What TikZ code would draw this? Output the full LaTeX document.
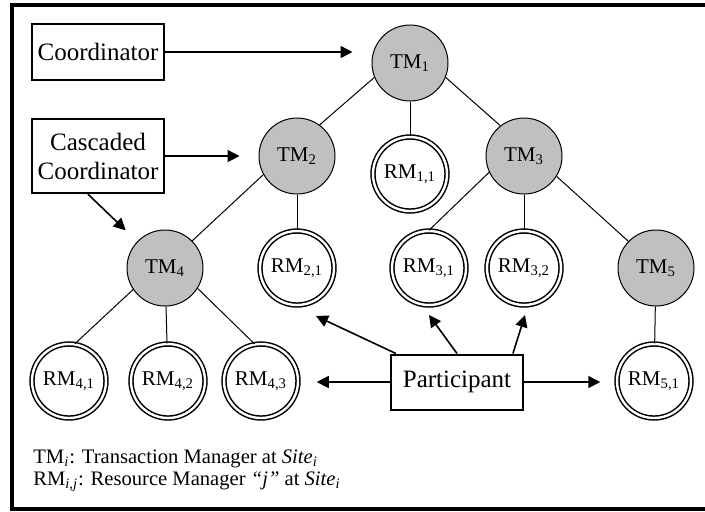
\documentclass[tikz,border=0pt]{standalone}
\usepackage{fontspec}
\setmainfont{Liberation Serif}
\usepackage{tikz}
\usetikzlibrary{arrows.meta}

\definecolor{tmgray}{RGB}{192,192,192}

\tikzset{
  tm/.style={circle, draw, line width=0.5pt, fill=tmgray, minimum size=38pt, inner sep=0pt, font=\fontsize{10.5}{12}\selectfont},
  rm/.style={circle, draw, line width=0.75pt, double, double distance=1.2pt, minimum size=37pt, inner sep=0pt, font=\fontsize{10.5}{12}\selectfont},
  role/.style={draw, line width=1pt, minimum width=66pt, inner sep=2pt, align=center, font=\fontsize{12.5}{14.5}\selectfont},
  arr/.style={line width=0.8pt, -{Triangle[length=6pt,width=6pt]}},
  link/.style={line width=0.5pt},
  legend/.style={anchor=base west, inner sep=0pt, font=\fontsize{10.3}{12}\selectfont}
}

\begin{document}
\begin{tikzpicture}[x=0.5pt, y=-0.5pt]

\useasboundingbox (0,0) rectangle (705,511);
% frame, open on the right
\draw[line width=2pt] (720,5) -- (12,5) -- (12,509) -- (720,509);

% transaction managers
\node[tm] (tm1) at (410,63) {TM\textsubscript{1}};
\node[tm] (tm2) at (297,156) {TM\textsubscript{2}};
\node[tm] (tm3) at (524,156) {TM\textsubscript{3}};
\node[tm] (tm4) at (165,268) {TM\textsubscript{4}};
\node[tm] (tm5) at (656,268) {TM\textsubscript{5}};

% resource managers
\node[rm] (rm11) at (410,174) {RM\textsubscript{1,1}};
\node[rm] (rm21) at (297,268) {RM\textsubscript{2,1}};
\node[rm] (rm31) at (429,268) {RM\textsubscript{3,1}};
\node[rm] (rm32) at (524,268) {RM\textsubscript{3,2}};
\node[rm] (rm41) at (69,381) {RM\textsubscript{4,1}};
\node[rm] (rm42) at (168,381) {RM\textsubscript{4,2}};
\node[rm] (rm43) at (261,381) {RM\textsubscript{4,3}};
\node[rm] (rm51) at (654,381) {RM\textsubscript{5,1}};

% roles
\node[role, minimum height=28pt] (coord) at (98,52) {Coordinator};
\node[role, minimum height=37pt] (casc) at (98,156) {Cascaded\\Coordinator};
\node[role, minimum height=27.5pt] (part) at (457,382) {Participant};

% tree
\draw[link] (tm1.202) -- (tm2.54);
\draw[link] (tm1.338) -- (tm3.128);
\draw[link] (tm1) -- (rm11);
\draw[link] (tm2.209) -- (tm4.45);
\draw[link] (tm2) -- (rm21);
\draw[link] (tm3.205) -- (rm31.north);
\draw[link] (tm3) -- (rm32);
\draw[link] (tm3.328) -- (tm5.136);
\draw[link] (tm4.214) -- (rm41.81);
\draw[link] (tm4) -- (rm42);
\draw[link] (tm4.328) -- (rm43.100);
\draw[link] (tm5) -- (rm51);

% role arrows
\coordinate (a21) at (316,316);
\coordinate (a31) at (429,315);
\coordinate (a32) at (525,315);

\draw[arr, shorten >=9.5pt] (coord.east) -- (coord.east -| tm1.west);
\draw[arr, shorten >=9.5pt] (casc.east) -- (casc.east -| tm2.west);
\draw[arr, shorten >=8pt] (casc.255) -- (tm4);
\draw[arr] (part.155) -- (a21);
\draw[arr] (part.north) -- (a31);
\draw[arr] (part.27) -- (a32);
\draw[arr, shorten >=9pt] (part.west) -- (part.west -| rm43.east);
\draw[arr, shorten >=8pt] (part.east) -- (part.east -| rm51.west);

% legend
\node[legend] (leg1) at (33,463) {TM\textsubscript{\textit{i}}: Transaction Manager at \textit{Site}\textsubscript{\textit{i}}};
\node[legend] (leg2) at (33,485) {RM\textsubscript{\textit{i,j}}: Resource Manager \textit{“j”} at \textit{Site}\textsubscript{\textit{i}}};

\end{tikzpicture}
\end{document}
